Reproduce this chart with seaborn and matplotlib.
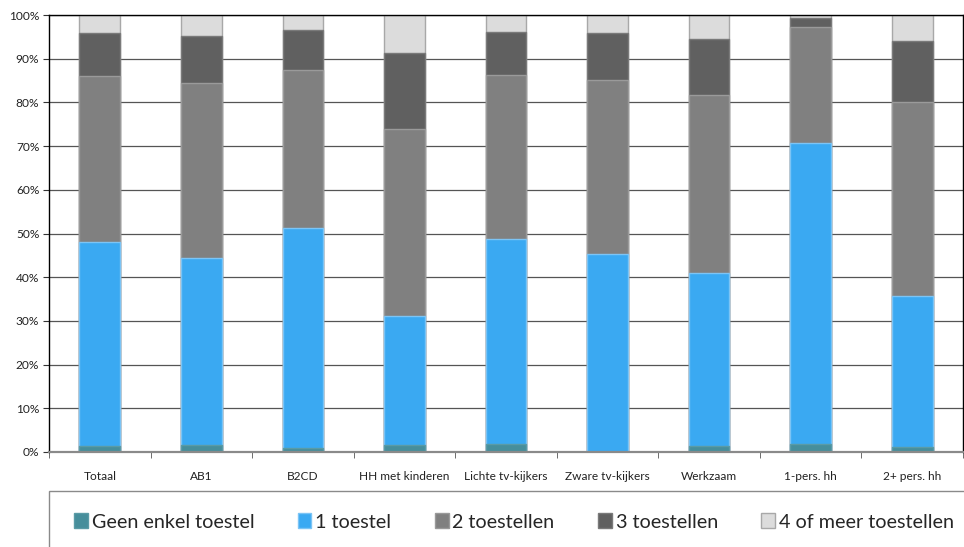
import numpy as np
import matplotlib
matplotlib.use("Agg")
import matplotlib.pyplot as plt
from matplotlib.patches import Patch, Rectangle
from matplotlib.ticker import FixedLocator
import seaborn as sns

categories = ["Totaal", "AB1", "B2CD", "HH met kinderen", "Lichte tv-kijkers",
              "Zware tv-kijkers", "Werkzaam", "1-pers. hh", "2+ pers. hh"]
series_names = ["Geen enkel toestel", "1 toestel", "2 toestellen", "3 toestellen",
                "4 of meer toestellen"]
geen = [1.4, 1.6, 1.0, 1.5, 1.8, 0.0, 1.4, 1.8, 1.1]
een = [46.6, 42.8, 50.3, 29.6, 46.9, 45.4, 39.5, 68.8, 34.7]
twee = [38.1, 40.1, 36.2, 42.9, 37.5, 39.8, 40.8, 26.6, 44.2]
drie = [9.8, 10.7, 9.1, 17.3, 9.8, 10.6, 12.8, 2.2, 14.0]
vier = [4.1, 4.8, 3.4, 8.7, 4.0, 4.2, 5.5, 0.6, 6.0]
yticks = [0, 10, 20, 30, 40, 50, 60, 70, 80, 90, 100]

colors = ["#468E9B", "#3AA9F2", "#808080", "#606060", "#DCDCDC"]
edges = ["#5a9ba6", "#7cc4f5", "#9a9a9a", "#7a7a7a", "#a8a8a8"]

sns.set_style("white")
plt.rcParams["font.family"] = ["Lato", "DejaVu Sans"]

fig = plt.figure(figsize=(9.64, 5.47), dpi=100)
ax = fig.add_axes([49 / 964, 1 - 452 / 547, 914 / 964, 437 / 547])

stack = np.array([geen, een, twee, drie, vier])
cum = np.cumsum(stack, axis=0)

# draw cumulative bars from the top layer down so they stack
for i in range(len(series_names) - 1, -1, -1):
    sns.barplot(x=categories, y=cum[i], color=colors[i], saturation=1,
                width=0.4, edgecolor=edges[i], linewidth=1, ax=ax)

ax.set_xlim(-0.5, len(categories) - 0.5)
ax.set_ylim(0, 100)
ax.set_yticks(yticks)
ax.set_yticklabels([f"{v}%" for v in yticks], fontsize=8.6, color="#222")
ax.yaxis.grid(True, color="#555555", linewidth=0.9)
ax.set_axisbelow(True)
ax.set_xlabel("")
ax.set_ylabel("")

ax.tick_params(axis="x", which="major", length=0, pad=14, labelsize=8.6, labelcolor="#222")
ax.xaxis.set_minor_locator(FixedLocator(np.arange(-0.5, len(categories), 1.0)))
ax.tick_params(axis="x", which="minor", length=4, direction="out", color="#555", bottom=True)
ax.tick_params(axis="y", length=4, direction="out", color="#333", left=True, pad=3)

for side in ["left", "top", "right"]:
    ax.spines[side].set_color("black")
    ax.spines[side].set_linewidth(1)
ax.spines["bottom"].set_color("#8a8a8a")
ax.spines["bottom"].set_linewidth(1.6)

# legend box running off the bottom/right of the picture
fig.patches.append(Rectangle((49 / 964, -0.05), 1.0, 0.05 + (547 - 491) / 547,
                             transform=fig.transFigure, fill=False,
                             edgecolor="#8a8a8a", linewidth=1, clip_on=False))

handles = [Patch(facecolor=colors[i], edgecolor=edges[i], linewidth=1)
           for i in range(len(series_names))]
fig.legend(handles, series_names, loc="center", ncol=5, frameon=False,
           bbox_to_anchor=(514 / 964, 1 - 522 / 547), fontsize=14.2,
           handlelength=0.7, handleheight=0.8, handletextpad=0.2,
           columnspacing=2.2, borderaxespad=0)

fig.savefig("out.png", dpi=100)
